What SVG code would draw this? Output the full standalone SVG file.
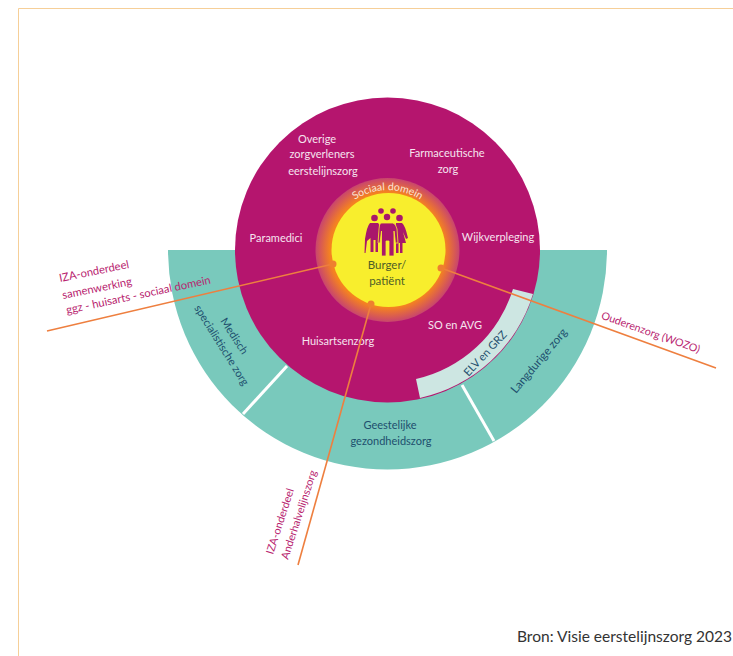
<svg xmlns="http://www.w3.org/2000/svg" width="733" height="656" viewBox="0 0 733 656">
<style>
text{font-family:Lato,"Open Sans","Liberation Sans",sans-serif}
.w{fill:#f6e4ef;font-size:11px;text-anchor:middle}
.b{fill:#1e4f6e;font-size:11px;text-anchor:middle}
.s{text-anchor:start}
.p{fill:#b8246f;font-size:11.200px}
.c{fill:none;stroke:#ee7f3f;stroke-width:1.6}
.d{fill:#ee7f2f}
.sep{stroke:#fff;stroke-width:3;fill:none}
.ic{fill:#a9176b}
</style>
<defs>
<radialGradient id="halo" gradientUnits="userSpaceOnUse" cx="387.5" cy="250" r="72">
<stop offset="0.8" stop-color="#f58220"/>
<stop offset="1" stop-color="#c8456e"/>
</radialGradient>
<path id="arc" d="M353 201A60 60 0 0 1 422 201"/>
</defs>
<rect width="733" height="656" fill="#fff"/>
<path d="M733 8.500H18.500V656" fill="none" stroke="#f6cf98" stroke-width="1"/>
<g id="ring-segments">
<path id="ring" d="M168 250H607A219.500 219.500 0 0 1 168 250Z" fill="#79c9bc"/>
<path class="sep" d="M287 366L243 414"/>
<path class="sep" d="M462 385L494 441"/>
</g>
<g id="eerstelijn"><circle cx="387.500" cy="250" r="152.500" fill="#b5156e"/></g>
<g id="elv-grz">
<path d="M513 289A132 132 0 0 1 416 379L420 398A152 152 0 0 0 533 294Z" fill="#cde6e2"/>
<text class="b" transform="translate(488 356) rotate(-47)">ELV en GRZ</text>
</g>
<g id="sociaal-domein">
<circle cx="387.500" cy="250" r="72" fill="url(#halo)"/>
<text style="fill:#fbe3d5;font-size:10.500px"><textPath href="#arc" startOffset="50%" text-anchor="middle">Sociaal domein</textPath></text>
</g>
<g id="burger">
<circle cx="388.500" cy="250" r="57" fill="#f8ee2d"/>
<g class="ic">
<circle cx="381" cy="211" r="2.800"/><circle cx="393" cy="211" r="2.800"/><circle cx="387" cy="217" r="3.200"/>
<circle cx="374.500" cy="218" r="3.300"/><circle cx="399.500" cy="218" r="3.300"/>
<path d="M370 223H378Q380 224 379 232L378 240V252H375.500V240H373.500V252H370.500V238L367 241L365.500 253H364.500L365 239Q367 226 370 223Z"/>
<path d="M396 223H402Q405 225 408 238L406 239L403 232L406 243H402.500V253H400V243H398.500V253H396V243H395Z"/>
<path d="M381 223H393Q396 224 397 229L398 243H395.500L394 231V256H389V241H386V256H381.500V231L380 243H378L379 229Q379 224 381 223Z" stroke="#f8ee2d" stroke-width="0.800"/>
</g>
<text style="fill:#4f5e28;font-size:11.500px;text-anchor:middle" x="387" y="269">Burger/</text>
<text style="fill:#4f5e28;font-size:11.500px;text-anchor:middle" x="387" y="285">patiënt</text>
</g>
<g id="labels-eerstelijn">
<text class="w" x="317" y="143">Overige</text>
<text class="w" x="322" y="158">zorgverleners</text>
<text class="w" x="323" y="175">eerstelijnszorg</text>
<text class="w" x="447" y="157">Farmaceutische</text>
<text class="w" x="448" y="173">zorg</text>
<text class="w" x="276" y="242">Paramedici</text>
<text class="w" x="498" y="241">Wijkverpleging</text>
<text class="w" x="338" y="345">Huisartsenzorg</text>
<text class="w" x="455" y="329">SO en AVG</text>
</g>
<g id="labels-ring">
<text class="b s" transform="translate(220 321) rotate(57)">Medisch</text>
<text class="b s" transform="translate(194 308) rotate(58)">specialistische zorg</text>
<text class="b" x="390" y="429">Geestelijke</text>
<text class="b" x="391" y="445">gezondheidszorg</text>
<text class="b s" style="font-size:11.500px" transform="translate(516 394) rotate(-50)">Langdurige zorg</text>
</g>
<g id="connectors">
<path class="c" d="M47 331L333 264"/>
<path class="c" d="M441 268L716 368"/>
<path class="c" d="M371 304L298 565"/>
<circle class="d" cx="333" cy="264" r="3.500"/>
<circle class="d" cx="441" cy="268" r="3.500"/>
<circle class="d" cx="371" cy="304" r="3.500"/>
</g>
<g id="labels-connectors">
<text class="p" transform="translate(60 282) rotate(-11.500)">IZA-onderdeel</text>
<text class="p" transform="translate(63 299) rotate(-11.500)">samenwerking</text>
<text class="p" transform="translate(67 314) rotate(-12)">ggz - huisarts - sociaal domein</text>
<text class="p" style="font-size:10.700px" transform="translate(600.500 318.500) rotate(19.500)">Ouderenzorg (WOZO)</text>
<text class="p" style="font-size:10.800px" transform="translate(273 555) rotate(-72)">IZA-onderdeel</text>
<text class="p" style="font-size:10.800px" transform="translate(288 560) rotate(-72)">Anderhalvelijnszorg</text>
</g>
<text x="517" y="642" style="fill:#333;font-size:15.500px" textLength="215" lengthAdjust="spacingAndGlyphs">Bron: Visie eerstelijnszorg 2023</text>
</svg>
